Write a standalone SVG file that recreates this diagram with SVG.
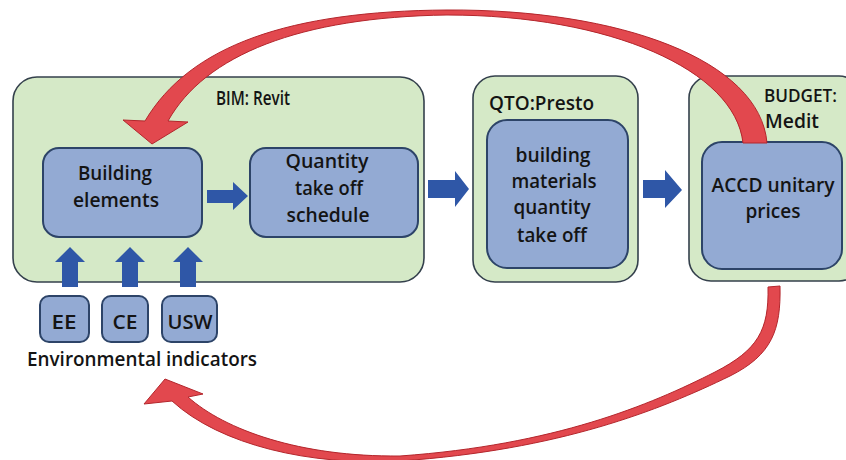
<svg xmlns="http://www.w3.org/2000/svg" width="846" height="460" viewBox="0 0 846 460">
<style>
.outer{fill:#d5e9c7;stroke:#34404c;stroke-width:1.6}
.inner{fill:#93aad3;stroke:#2d4468;stroke-width:2}
.t{font-family:"Open Sans","Liberation Sans",sans-serif;font-size:20px;font-weight:600;fill:#141414}
.c{text-anchor:middle}
.blue{fill:#2f57a7}
.red{fill:#e2484e;stroke:#b3262c;stroke-width:1}
</style>
<rect width="846" height="460" fill="#ffffff"/>
<g id="bim">
<rect class="outer" x="13" y="77" width="411" height="205" rx="24"/>
<text class="t" x="216" y="105" textLength="74" lengthAdjust="spacingAndGlyphs">BIM: Revit</text>
</g>
<g id="qto">
<rect class="outer" x="473" y="76" width="165" height="206" rx="22"/>
<text class="t" x="489" y="110" textLength="105" lengthAdjust="spacingAndGlyphs">QTO:Presto</text>
</g>
<g id="budget">
<rect class="outer" x="689" y="76" width="172" height="205" rx="22"/>
<text class="t" x="764" y="102" style="font-size:18px" textLength="73" lengthAdjust="spacingAndGlyphs">BUDGET:</text>
<text class="t" x="765" y="128" textLength="54" lengthAdjust="spacingAndGlyphs">Medit</text>
</g>
<g id="building-elements">
<rect class="inner" x="43" y="148" width="159" height="89" rx="16"/>
<text class="t c" x="115" y="180" textLength="74" lengthAdjust="spacingAndGlyphs">Building</text>
<text class="t c" x="116" y="207" textLength="86" lengthAdjust="spacingAndGlyphs">elements</text>
</g>
<g id="qto-schedule">
<rect class="inner" x="250" y="148" width="168" height="89" rx="16"/>
<text class="t c" x="327" y="168" textLength="83" lengthAdjust="spacingAndGlyphs">Quantity</text>
<text class="t c" x="329" y="195" textLength="68" lengthAdjust="spacingAndGlyphs">take off</text>
<text class="t c" x="328" y="222" textLength="83" lengthAdjust="spacingAndGlyphs">schedule</text>
</g>
<g id="materials-qto">
<rect class="inner" x="487" y="120" width="141" height="148" rx="20"/>
<text class="t c" x="553" y="162" textLength="75" lengthAdjust="spacingAndGlyphs">building</text>
<text class="t c" x="554" y="188" textLength="85" lengthAdjust="spacingAndGlyphs">materials</text>
<text class="t c" x="552" y="214" textLength="77" lengthAdjust="spacingAndGlyphs">quantity</text>
<text class="t c" x="552" y="242" textLength="70" lengthAdjust="spacingAndGlyphs">take off</text>
</g>
<g id="accd-prices">
<rect class="inner" x="702" y="142" width="140" height="127" rx="20"/>
<text class="t c" x="773" y="192" textLength="123" lengthAdjust="spacingAndGlyphs">ACCD unitary</text>
<text class="t c" x="773" y="218" textLength="55" lengthAdjust="spacingAndGlyphs">prices</text>
</g>
<g id="ee">
<rect class="inner" x="40" y="296" width="49" height="46" rx="9"/>
<text class="t c" x="64" y="329" textLength="25" lengthAdjust="spacingAndGlyphs">EE</text>
</g>
<g id="ce">
<rect class="inner" x="102" y="296" width="46" height="46" rx="9"/>
<text class="t c" x="125" y="329" textLength="25" lengthAdjust="spacingAndGlyphs">CE</text>
</g>
<g id="usw">
<rect class="inner" x="162" y="296" width="55" height="46" rx="9"/>
<text class="t c" x="190" y="329" textLength="45" lengthAdjust="spacingAndGlyphs">USW</text>
</g>
<g id="env-label">
<text class="t" x="27" y="366" textLength="230" lengthAdjust="spacingAndGlyphs">Environmental indicators</text>
</g>
<g id="connectors">
<polygon class="blue" points="207,190 233,190 233,182 248,196 233,210 233,203 207,203"/>
<polygon class="blue" points="428,180 455,180 455,171 469,189 455,207 455,198 428,198"/>
<polygon class="blue" points="643,180 665,180 665,170 682,190 665,208 665,198 643,198"/>
<polygon class="blue" points="62,287 62,262 55,262 70,247 85,262 78,262 78,287"/>
<polygon class="blue" points="122,287 122,262 115,262 130,247 145,262 138,262 138,287"/>
<polygon class="blue" points="180,287 180,262 173,262 188,247 203,262 196,262 196,287"/>
<path class="red" d="M767,143 C760,60 620,9 447,10 C290,11 190,45 145,121 L123,120 L152,144 L188,122 L168,121 C205,55 300,17 447,15 C610,15 735,70 743,143 Z"/>
<path class="red" d="M780,286 C781,330 772,355 730,376 C660,410 560,450 400,461 C310,466 220,445 172,401 L144,404 L165,379 L203,394 L188,397 C225,430 300,457 400,456 C555,445 650,405 715,372 C758,350 769,330 768,287 Z"/>
</g>
</svg>
